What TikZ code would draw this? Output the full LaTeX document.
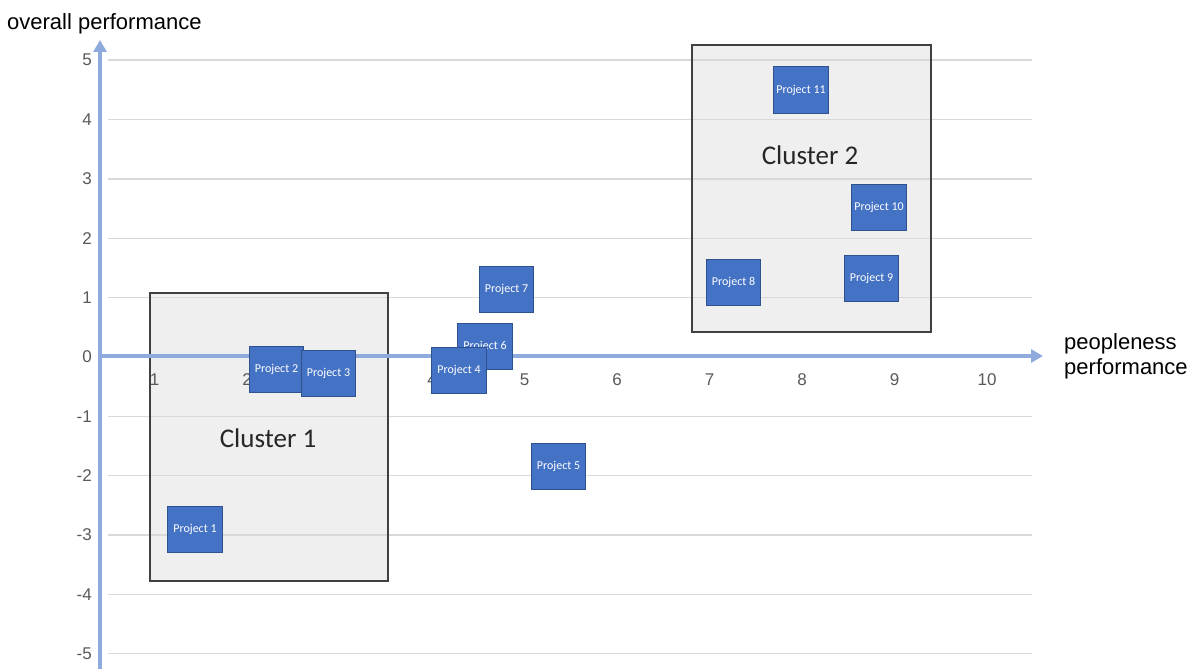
\documentclass[tikz,border=0pt]{standalone}
\usepackage{fontspec}
\setmainfont{Liberation Sans}
\newfontfamily\calib{Carlito}
\usetikzlibrary{arrows.meta}
\definecolor{gridc}{HTML}{D9D9D9}
\definecolor{axisc}{HTML}{8FAADC}
\definecolor{projfill}{HTML}{4472C4}
\definecolor{projline}{HTML}{2F528F}
\definecolor{clusfill}{HTML}{EFEFEF}
\definecolor{clusline}{HTML}{404040}
\definecolor{tickc}{HTML}{595959}
\definecolor{labc}{HTML}{262626}
\tikzset{
  proj/.style={draw=projline, line width=1pt, fill=projfill, minimum width=54.5pt, minimum height=46pt, inner sep=0pt, text=white, font=\calib\fontsize{12}{14}\selectfont},
  clusbox/.style={fill=clusfill},
  clusborder/.style={draw=clusline, line width=1.5pt},
  gridline/.style={draw=gridc, line width=1.3pt},
  axisline/.style={draw=axisc, line width=4pt, -{Triangle[width=13pt,length=12pt]}},
  ytick/.style={anchor=east, text=tickc, font=\fontsize{17}{20}\selectfont, inner sep=0pt},
  xtick/.style={anchor=center, text=tickc, font=\fontsize{17}{20}\selectfont, inner sep=0pt},
  axislabel/.style={text=black, font=\fontsize{22}{25}\selectfont, inner sep=0pt},
  cluslabel/.style={text=labc, font=\calib\fontsize{27}{32}\selectfont, inner sep=0pt}
}
\begin{document}
\begin{tikzpicture}[x=1pt, y=-1pt]
\useasboundingbox (0,0) rectangle (1196,669);
% cluster fills
\path[clusbox] (150,293) rectangle (388,581);
\path[clusbox] (692,45) rectangle (931,332);
% gridlines
\foreach \v/\yy in {5/60,4/119.5,3/179,2/238.3,1/297.6,0/357,-1/416.3,-2/475.6,-3/535,-4/594.3,-5/653.6}{
  \draw[gridline] (108,\yy) -- (1032,\yy);
  \node[ytick] (yt\v) at (92,\yy) {\v};
}
% cluster borders
\draw[clusborder] (150,293) rectangle (388,581);
\draw[clusborder] (692,45) rectangle (931,332);
% axes
\coordinate (yb) at (100,669);
\coordinate (yt) at (100,40);
\coordinate (xl) at (98,356);
\coordinate (xr) at (1043,356);
\draw[axisline] (yb) -- (yt);
\draw[axisline, line width=3.5pt] (xl) -- (xr);
% x ticks
\foreach \i in {1,...,10}{
  \node[xtick] (xt\i) at ({154.5+92.5*(\i-1)},380) {\i};
}
% axis labels
\node[axislabel, anchor=base west] (ylab) at (7,30) {overall performance};
\node[axislabel, anchor=west, align=left] (xlab) at (1064,356) {peopleness\\performance};
% cluster labels
\node[cluslabel] (c1) at (268,438) {Cluster 1};
\node[cluslabel] (c2) at (810,155) {Cluster 2};
% projects
\node[proj] (p1) at (195,529.5) {Project 1};
\node[proj] (p2) at (276.5,369.5) {Project 2};
\node[proj] (p3) at (328.5,373.5) {Project 3};
\node[proj] (p6) at (485,346.5) {Project 6};
\node[proj] (p4) at (459,370.5) {Project 4};
\node[proj] (p7) at (506.5,289.5) {Project 7};
\node[proj] (p5) at (558.5,466.5) {Project 5};
\node[proj] (p8) at (733.5,282.5) {Project 8};
\node[proj] (p9) at (871.5,278) {Project 9};
\node[proj] (p10) at (879,207.5) {Project 10};
\node[proj] (p11) at (801,90) {Project 11};
\end{tikzpicture}
\end{document}
